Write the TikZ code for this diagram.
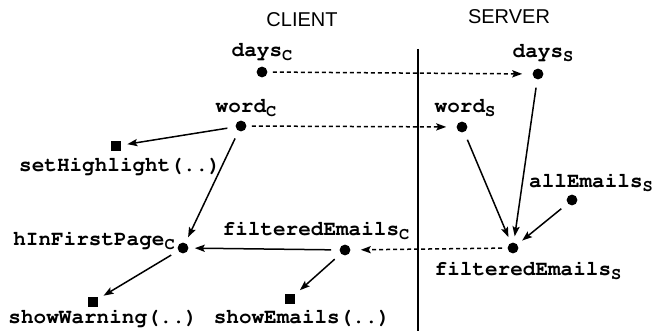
\documentclass[tikz,border=0pt]{standalone}
\usepackage[T1]{fontenc}
\usepackage{fontspec}
\setmainfont{Liberation Sans}
\usetikzlibrary{arrows.meta, positioning}
\newcommand{\cour}{\fontencoding{T1}\fontfamily{pcr}\fontseries{b}\selectfont}
\newcommand{\var}[2]{{\cour #1\raisebox{-0.45ex}{\fontsize{8.5}{9}\selectfont #2}}}
\newcommand{\fun}[1]{{\cour #1}}

\begin{document}
\begin{tikzpicture}[x=0.5pt, y=-0.5pt, >={Stealth[length=5pt, width=3.6pt, inset=1pt]},
    dot/.style={circle, fill=black, inner sep=0pt, minimum size=5.4pt},
    fn/.style={rectangle, fill=black, inner sep=0pt, minimum size=5pt},
    vlabel/.style={inner sep=0pt, font=\fontsize{10.5}{12}\selectfont},
    side/.style={inner sep=0pt, font=\fontsize{10}{12}\selectfont},
    flow/.style={->, line width=0.75pt, shorten <=4pt, shorten >=3pt},
    sync/.style={->, line width=0.75pt, dash pattern=on 2pt off 1.5pt, shorten <=2.5pt, shorten >=5pt}]
    \useasboundingbox (0,0) rectangle (657,331);

    % sides
    \node[side] (client) at (302,20) {CLIENT};
    \node[side] (server) at (509,17) {SERVER};
    \coordinate (top) at (418,49);
    \coordinate (bottom) at (418,331);
    \draw[line width=1pt] (top) -- (bottom);

    % client
    \node[dot] (dC) at (262,72) {};
    \node[dot] (wC) at (241,126) {};
    \node[dot] (hC) at (183,248) {};
    \node[dot] (fC) at (345,250) {};
    \node[fn] (setH) at (116,146) {};
    \node[fn] (showW) at (93,302) {};
    \node[fn] (showE) at (290,299) {};

    % server
    \node[dot] (dS) at (538,74) {};
    \node[dot] (wS) at (462,127) {};
    \node[dot] (aS) at (572,200) {};
    \node[dot] (fS) at (513,248) {};

    % labels
    \node[vlabel] (dCl) at (262,52) {\var{days}{C}};
    \node[vlabel] (wCl) at (246,108) {\var{word}{C}};
    \node[vlabel] (hCl) at (94,241) {\var{hInFirstPage}{C}};
    \node[vlabel] (fCl) at (316,231) {\var{filteredEmails}{C}};
    \node[vlabel] (setHl) at (120,166) {\fun{setHighlight(..)}};
    \node[vlabel] (showWl) at (103,318) {\fun{showWarning(..)}};
    \node[vlabel] (showEl) at (302,318) {\fun{showEmails(..)}};
    \node[vlabel] (dSl) at (543,53) {\var{days}{S}};
    \node[vlabel] (wSl) at (465,108) {\var{word}{S}};
    \node[vlabel] (aSl) at (591,183) {\var{allEmails}{S}};
    \node[vlabel] (fSl) at (528,271) {\var{filteredEmails}{S}};

    \draw[sync] (dC) -- (dS);
    \draw[sync] (wC) -- (wS);
    \draw[sync] (fS) -- (fC);

    \draw[flow] (wC) -- (setH);
    \draw[flow] (wC) -- (hC);
    \draw[flow] (fC) -- (hC);
    \draw[flow] (fC) -- (showE);
    \draw[flow] (hC) -- (showW);
    \draw[flow] (dS) -- (fS);
    \draw[flow] (wS) -- (fS);
    \draw[flow] (aS) -- (fS);
\end{tikzpicture}
\end{document}
